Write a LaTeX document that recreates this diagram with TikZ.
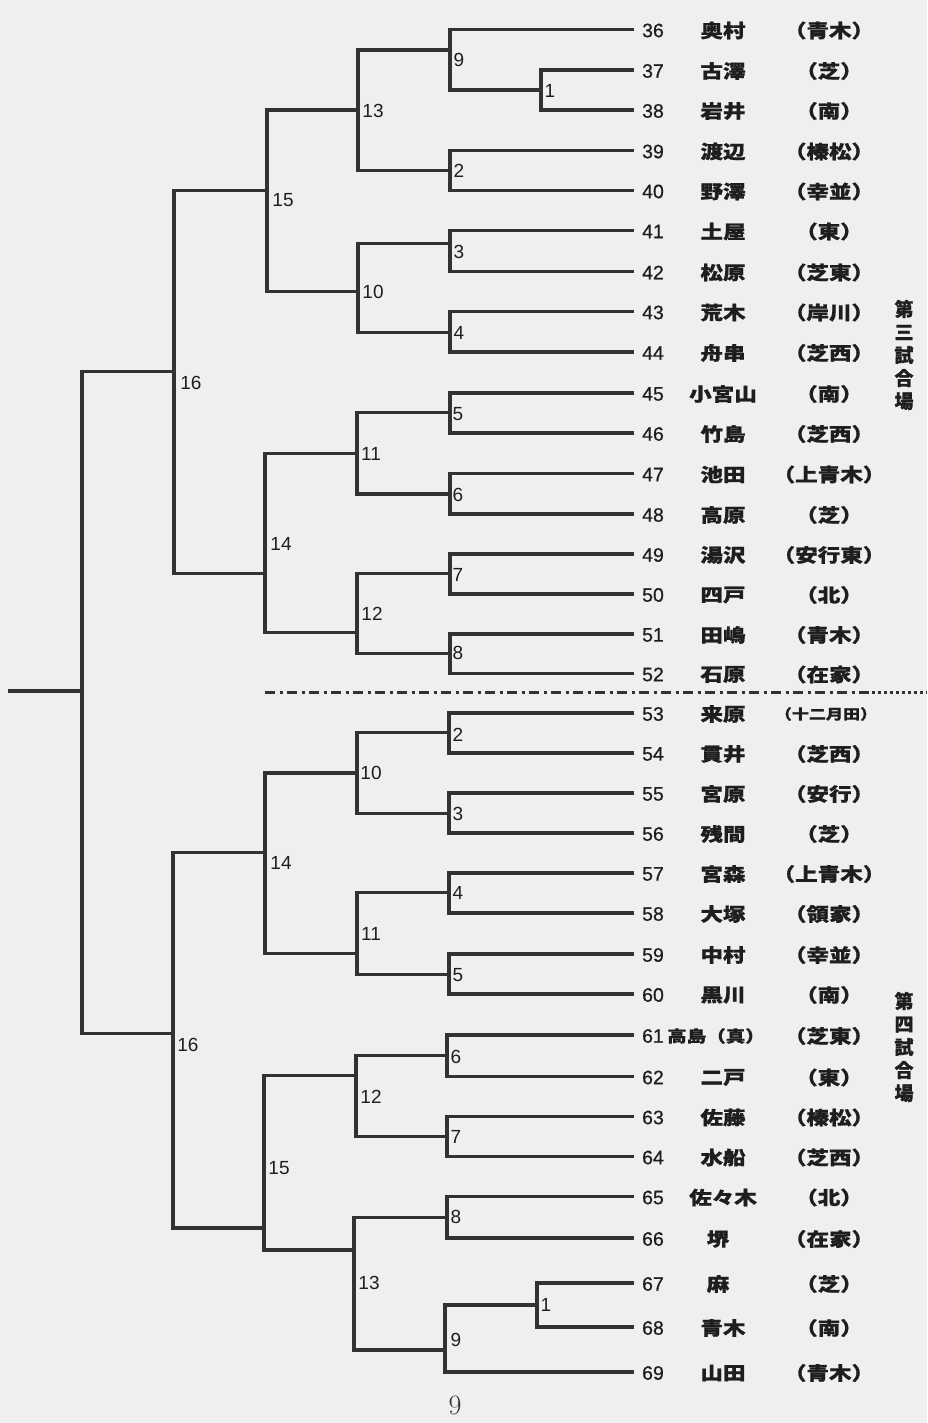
\documentclass[tikz,border=0pt]{standalone}
\usepackage{fontspec}
\setmainfont{Liberation Sans}
\newfontfamily\numf{Liberation Sans}[FakeBold=0.6]
\newfontfamily\cjk{Noto Sans CJK JP}[FakeStretch=1.22, BoldFeatures={FakeBold=0.8}]
\newfontfamily\cjkv{Noto Sans CJK JP}[BoldFeatures={FakeBold=0.8}]
\newfontfamily\serifnum{Latin Modern Roman}
\definecolor{bg}{RGB}{239,239,239}
\definecolor{ink}{RGB}{50,50,50}
\definecolor{txt}{RGB}{30,30,30}
\tikzset{
  br/.style={line width=3.2pt, draw=ink, line join=miter, line cap=rect},
  num/.style={font=\numf\fontsize{19.5}{21}\selectfont, text=txt, inner sep=0pt},
  nm/.style={font=\cjk\bfseries\fontsize{18.5}{20}\selectfont, text=txt, inner sep=0pt},
  af/.style={font=\cjk\bfseries\fontsize{18.5}{20}\selectfont, text=txt, inner sep=0pt},
  rl/.style={font=\fontsize{19}{21}\selectfont, text=txt, inner sep=0pt},
  vt/.style={font=\cjkv\bfseries\fontsize{19}{23}\selectfont, text=txt, align=center, inner sep=0pt}
}
\begin{document}
\begin{tikzpicture}[x=1pt,y=-1pt]
\fill[bg] (0,0) rectangle (927,1423);
\useasboundingbox (0,0) rectangle (927,1423);

% entries
\foreach \n/\y/\nm/\af in {
36/29.5/奥村/青木, 37/70/古澤/芝, 38/110/岩井/南, 39/150.5/渡辺/榛松,
40/190.5/野澤/幸並, 41/230.5/土屋/東, 42/271.5/松原/芝東, 43/311.5/荒木/岸川,
44/352/舟串/芝西, 45/393/小宮山/南, 46/433/竹島/芝西, 47/473.5/池田/上青木,
48/514/高原/芝, 49/554/湯沢/安行東, 50/594/四戸/北, 51/634/田嶋/青木,
52/673.5/石原/在家, 54/753/貫井/芝西, 55/793/宮原/安行,
56/833/残間/芝, 57/873/宮森/上青木, 58/913/大塚/領家, 59/954/中村/幸並,
60/994/黒川/南, 62/1076.5/二戸/東, 63/1116.5/佐藤/榛松,
64/1156.5/水船/芝西, 65/1196.5/佐々木/北, 68/1327/青木/南, 69/1372/山田/青木}
{
  \coordinate (e\n) at (632,\y);
  \node[num] (k\n) at (653,\y+1) {\n};
  \node[nm] (n\n) at (723,\y+1) {\nm};
  \node[af] (a\n) at (829,\y+1) {（\af）};
}
% special entries
\coordinate (e53) at (632,713);
\node[num] (k53) at (653,714) {53};
\node[nm] (n53) at (723,714) {来原};
\node[af, font=\cjk\bfseries\fontsize{14}{16}\selectfont] (a53) at (826,714) {（十二月田）};
\coordinate (e61) at (632,1035);
\node[num] (k61) at (653,1036) {61};
\node[nm, font=\cjk\bfseries\fontsize{16}{18}\selectfont] (n61) at (716,1036) {高島（真）};
\node[af] (a61) at (829,1036) {（芝東）};
\coordinate (e66) at (632,1238);
\node[num] (k66) at (653,1239) {66};
\node[nm] (n66) at (718,1239) {堺};
\node[af] (a66) at (829,1239) {（在家）};
\coordinate (e67) at (632,1283);
\node[num] (k67) at (653,1284) {67};
\node[nm] (n67) at (718,1284) {麻};
\node[af] (a67) at (829,1284) {（芝）};

% match joints, top half
\coordinate (m1T) at (541,90);
\coordinate (m9T) at (450,50);
\coordinate (m2T) at (450,170.7);
\coordinate (m3T) at (450,243.3);
\coordinate (m4T) at (450,332.3);
\coordinate (m13T) at (358,110);
\coordinate (m10T) at (358,291.7);
\coordinate (m15T) at (267,190.7);
\coordinate (m5T) at (450,412.3);
\coordinate (m6T) at (450,494);
\coordinate (m7T) at (450,573.3);
\coordinate (m8T) at (450,653.3);
\coordinate (m11T) at (357,453.3);
\coordinate (m12T) at (357,632.7);
\coordinate (m14T) at (265,573.3);
\coordinate (m16T) at (174,371.7);
% bottom half
\coordinate (m2B) at (449,732.7);
\coordinate (m3B) at (449,813.3);
\coordinate (m10B) at (357,773);
\coordinate (m4B) at (449,892.3);
\coordinate (m5B) at (449,974.3);
\coordinate (m11B) at (357,953.3);
\coordinate (m14B) at (265,852.7);
\coordinate (m6B) at (447,1055.7);
\coordinate (m7B) at (447,1136.7);
\coordinate (m12B) at (356,1075.7);
\coordinate (m8B) at (447,1217.3);
\coordinate (m1B) at (537,1305);
\coordinate (m9B) at (445,1350);
\coordinate (m13B) at (354,1250);
\coordinate (m15B) at (264,1228);
\coordinate (m16B) at (173,1033.3);
\coordinate (fin) at (82,691);
\coordinate (out) at (10,691);

% brackets top
\draw[br] (e37) -| (m1T) |- (e38);
\draw[br] (e36) -| (m9T) |- (m1T);
\draw[br] (e39) -| (m2T) |- (e40);
\draw[br] (e41) -| (m3T) |- (e42);
\draw[br] (e43) -| (m4T) |- (e44);
\draw[br] (m9T) -| (m13T) |- (m2T);
\draw[br] (m3T) -| (m10T) |- (m4T);
\draw[br] (m13T) -| (m15T) |- (m10T);
\draw[br] (e45) -| (m5T) |- (e46);
\draw[br] (e47) -| (m6T) |- (e48);
\draw[br] (e49) -| (m7T) |- (e50);
\draw[br] (e51) -| (m8T) |- (e52);
\draw[br] (m5T) -| (m11T) |- (m6T);
\draw[br] (m7T) -| (m12T) |- (m8T);
\draw[br] (m11T) -| (m14T) |- (m12T);
\draw[br] (m15T) -| (m16T) |- (m14T);
% brackets bottom
\draw[br] (e53) -| (m2B) |- (e54);
\draw[br] (e55) -| (m3B) |- (e56);
\draw[br] (m2B) -| (m10B) |- (m3B);
\draw[br] (e57) -| (m4B) |- (e58);
\draw[br] (e59) -| (m5B) |- (e60);
\draw[br] (m4B) -| (m11B) |- (m5B);
\draw[br] (m10B) -| (m14B) |- (m11B);
\draw[br] (e61) -| (m6B) |- (e62);
\draw[br] (e63) -| (m7B) |- (e64);
\draw[br] (m6B) -| (m12B) |- (m7B);
\draw[br] (e65) -| (m8B) |- (e66);
\draw[br] (e67) -| (m1B) |- (e68);
\draw[br] (m1B) -| (m9B) |- (e69);
\draw[br] (m8B) -| (m13B) |- (m9B);
\draw[br] (m12B) -| (m15B) |- (m13B);
\draw[br] (m14B) -| (m16B) |- (m15B);
% final
\draw[br] (m16T) -| (fin) |- (m16B);
\draw[br] (fin) -- (out);

% round labels top
\foreach \t/\x/\y/\nmx in {9/459/60/a, 1/550/91/b, 13/373/111/c, 2/459/171/d, 15/283/200/e,
  3/459/252/f, 10/373/292/g, 4/459/333/h, 5/458/414/i, 11/371/454/j, 6/458/495/k,
  14/281/544/l, 7/458/575/m, 12/372/614/n, 8/458/653/o, 16/191/383/p}
  \node[rl] (lt\nmx) at (\x,\y) {\t};
% round labels bottom
\foreach \t/\x/\y/\nmx in {2/458/735/a, 10/371/773/b, 3/458/814/c, 14/281/863/d, 4/458/893/e,
  11/371/934/f, 5/458/975/g, 6/456/1057/h, 12/371/1097/i, 7/456/1137/j, 15/279/1168/k,
  8/456/1217/l, 13/369/1283/m, 1/546/1305/n, 9/456/1340/o, 16/188/1045/p}
  \node[rl] (lb\nmx) at (\x,\y) {\t};

% divider
\coordinate (d0) at (265,692);
\coordinate (d1) at (872,692);
\coordinate (d2) at (927,692);
\draw[line width=3pt, draw=ink, dash pattern=on 10pt off 4.5pt on 3pt off 4.5pt] (d0) -- (d1);
\draw[line width=3pt, draw=ink, dash pattern=on 3pt off 3pt] (d1) -- (d2);

% venue labels
\node[vt] (v3) at (904,355) {第\\三\\試\\合\\場};
\node[vt] (v4) at (904,1047) {第\\四\\試\\合\\場};

% page number
\node[font=\serifnum\fontsize{28}{30}\selectfont, text=ink, inner sep=0pt] (pg) at (455,1405) {9};
\end{tikzpicture}
\end{document}
